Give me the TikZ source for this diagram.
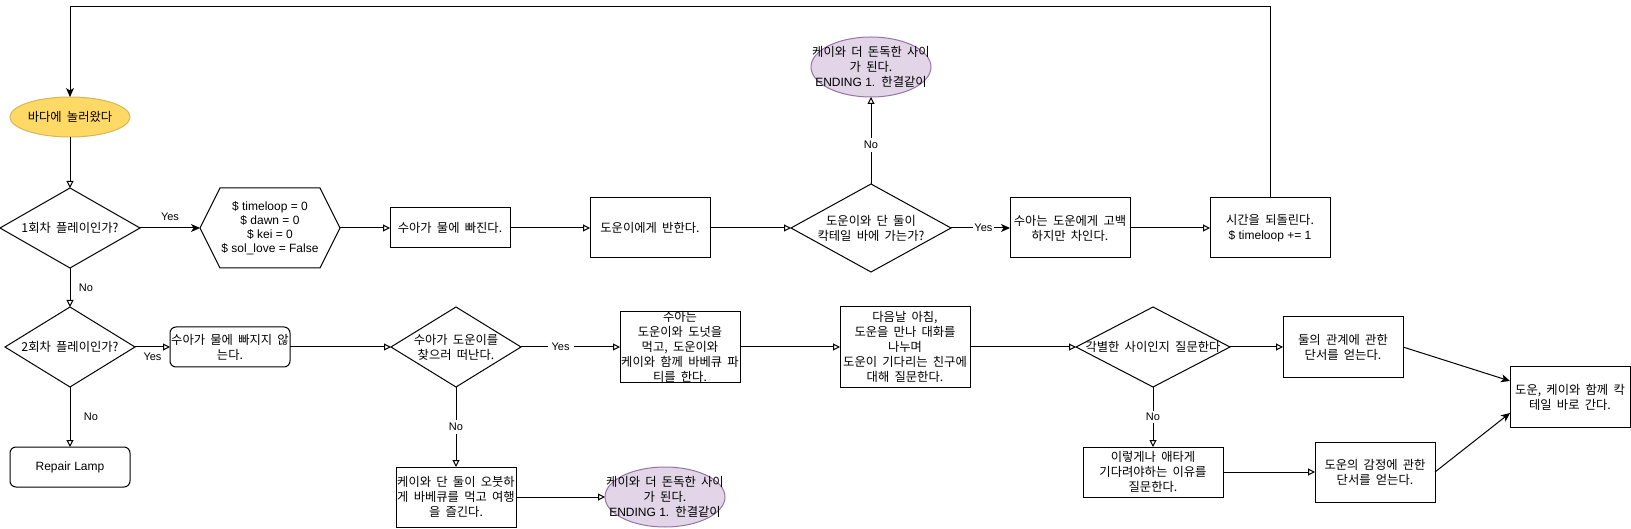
\documentclass[tikz,border=0pt]{standalone}
\usepackage{fontspec}
\setmainfont{Liberation Sans}
\newfontfamily\kr[WordSpace=1.9]{Noto Sans CJK KR}
\usetikzlibrary{shapes.geometric,arrows.meta}
\definecolor{goldfill}{HTML}{FFD966}
\definecolor{goldline}{HTML}{D6B656}
\definecolor{purpfill}{HTML}{E1D5E7}
\definecolor{purpline}{HTML}{9673A6}
\newcommand{\latinpart}[1]{{\normalfont\fontsize{12}{14}\selectfont #1}}
\begin{document}
\begin{tikzpicture}[x=1pt,y=-1pt,
  every node/.style={inner sep=0pt, outer sep=0pt},
  box/.style={draw=black, line width=1pt, rectangle, fill=white},
  rbox/.style={box, rounded corners=6pt},
  dia/.style={draw=black, line width=1pt, diamond, fill=white},
  ell/.style={line width=1pt, ellipse},
  txt/.style={font=\kr\fontsize{12.3}{15}\selectfont, align=center, text=black},
  ltxt/.style={font=\fontsize{12}{14}\selectfont, align=center, text=black},
  lbl/.style={font=\fontsize{11}{13}\selectfont, fill=white, inner sep=1.5pt, text=black},
  oarrow/.style={line width=1pt, -{Triangle[open, length=7pt, width=7pt]}},
  farrow/.style={line width=1pt, -{Stealth[length=9pt, width=8pt, inset=2.5pt]}}
]
\useasboundingbox (0,0) rectangle (1631,529);

% ---------- row 1 ----------
\node[ell, fill=goldfill, draw=goldline, minimum width=120pt, minimum height=40pt] (start) at (70,117) {};
\node[txt] (startT) at (start) {바다에 놀러왔다};

\node[dia, minimum width=140pt, minimum height=80pt] (q1) at (70,228) {};
\node[txt] (q1T) at (q1) {1회차 플레이인가?};

\node[minimum width=140pt, minimum height=80pt] (hex) at (270,228) {};
\draw[line width=1pt, fill=white] (hex.west) -- ([xshift=20pt]hex.north west) -- ([xshift=-20pt]hex.north east) -- (hex.east) -- ([xshift=-20pt]hex.south east) -- ([xshift=20pt]hex.south west) -- cycle;
\node[ltxt] (hexT) at (hex) {\$ timeloop = 0\\\$ dawn = 0\\\$ kei = 0\\\$ sol\_love = False};

\node[box, minimum width=120pt, minimum height=40pt] (A) at (450,228) {};
\node[txt] (AT) at (A) {수아가 물에 빠진다.};

\node[box, minimum width=120pt, minimum height=60pt] (B) at (650,228) {};
\node[txt] (BT) at (B) {도운이에게 반한다.};

\node[dia, minimum width=160pt, minimum height=88pt] (q2) at (871,228) {};
\node[txt] (q2T) at (q2) {도운이와 단 둘이\\칵테일 바에 가는가?};

\node[ell, fill=purpfill, draw=purpline, minimum width=120pt, minimum height=60pt] (end1) at (871,67) {};
\node[txt] (end1T) at (end1) {케이와 더 돈독한 사이\\가 된다.\\\latinpart{ENDING 1.} 한결같이};

\node[box, minimum width=120pt, minimum height=60pt] (C) at (1070,228) {};
\node[txt] (CT) at (C) {수아는 도운에게 고백\\하지만 차인다.};

\node[box, minimum width=120pt, minimum height=60pt] (E) at (1270,228) {};
\node[txt] (ET) at (E) {시간을 되돌린다.\\\latinpart{\$ timeloop += 1}};

\coordinate (loopR) at (1270,7);
\coordinate (loopL) at (70,7);

% ---------- row 2 ----------
\node[dia, minimum width=130pt, minimum height=80pt] (q3) at (70,347) {};
\node[txt] (q3T) at (q3) {2회차 플레이인가?};

\node[rbox, minimum width=120pt, minimum height=40pt] (R1) at (230,347) {};
\node[txt] (R1T) at (R1) {수아가 물에 빠지지 않\\는다.};

\node[rbox, minimum width=120pt, minimum height=40pt] (RL) at (70,467) {};
\node[ltxt] (RLT) at (RL) {Repair Lamp};

\node[dia, minimum width=130pt, minimum height=80pt] (q4) at (456,347) {};
\node[txt] (q4T) at (q4) {수아가 도운이를\\찾으러 떠난다.};

\node[box, minimum width=120pt, minimum height=70pt] (F) at (680,347) {};
\node[txt] (FT) at (F) {수아는\\도운이와 도넛을\\먹고, 도운이와\\케이와 함께 바베큐 파\\티를 한다.};

\node[box, minimum width=130pt, minimum height=80pt] (G) at (905,347) {};
\node[txt] (GT) at (G) {다음날 아침,\\도운을 만나 대화를\\나누며\\도운이 기다리는 친구에\\대해 질문한다.};

\node[dia, minimum width=154pt, minimum height=80pt] (q5) at (1153,347) {};
\node[txt] (q5T) at (q5) {각별한 사이인지 질문한다};

\node[box, minimum width=120pt, minimum height=60pt] (J) at (1343,347) {};
\node[txt] (JT) at (J) {둘의 관계에 관한\\단서를 얻는다.};

\node[box, minimum width=120pt, minimum height=60pt] (K) at (1570,397) {};
\node[txt] (KT) at (K) {도운, 케이와 함께 칵\\테일 바로 간다.};

\node[box, minimum width=140pt, minimum height=50pt] (H) at (1153,472) {};
\node[txt] (HT) at (H) {이렇게나 애타게\\기다려야하는 이유를\\질문한다.};

\node[box, minimum width=120pt, minimum height=60pt] (I) at (1375,472) {};
\node[txt] (IT) at (I) {도운의 감정에 관한\\단서를 얻는다.};

\node[box, minimum width=120pt, minimum height=60pt] (L) at (456,497) {};
\node[txt] (LT) at (L) {케이와 단 둘이 오붓하\\게 바베큐를 먹고 여행\\을 즐긴다.};

\node[ell, fill=purpfill, draw=purpline, minimum width=120pt, minimum height=60pt] (end2) at (665,497) {};
\node[txt] (end2T) at (end2) {케이와 더 돈독한 사이\\가 된다.\\\latinpart{ENDING 1.} 한결같이};

% ---------- connectors ----------
\draw[oarrow] (start.south) -- (q1.north);
\draw[farrow] (q1.east) -- node[lbl, pos=0.5, yshift=11pt] (lYes1) {Yes} (hex.west);
\draw[oarrow] (hex.east) -- (A.west);
\draw[oarrow] (A.east) -- (B.west);
\draw[oarrow] (B.east) -- (q2.west);
\draw[farrow] (q2.east) -- node[lbl, pos=0.55] (lYes2) {Yes} (C.west);
\draw[oarrow] (C.east) -- (E.west);
\draw[farrow] (E.north) -- (loopR) -- (loopL) -- (start.north);
\draw[oarrow] (q2.north) -- node[lbl, pos=0.45, inner sep=3pt] (lNo1) {No} (end1.south);

\draw[oarrow] (q1.south) -- node[lbl, pos=0.5, xshift=16pt, fill=none] (lNo2) {No} (q3.north);
\draw[oarrow] (q3.east) -- node[lbl, pos=0.5, yshift=-10pt, fill=none] (lYes3) {Yes} (R1.west);
\draw[oarrow] (q3.south) -- node[lbl, pos=0.5, xshift=21pt, fill=none] (lNo3) {No} (RL.north);
\draw[oarrow] (R1.east) -- (q4.west);
\draw[oarrow] (q4.east) -- node[lbl, pos=0.4, inner sep=4pt] (lYes4) {Yes} (F.west);
\draw[oarrow] (q4.south) -- node[lbl, pos=0.5, inner sep=3pt] (lNo4) {No} (L.north);
\draw[oarrow] (L.east) -- (end2.west);
\draw[oarrow] (F.east) -- (G.west);
\draw[oarrow] (G.east) -- (q5.west);
\draw[oarrow] (q5.east) -- (J.west);
\draw[oarrow] (q5.south) -- node[lbl, pos=0.5, inner sep=2pt] (lNo5) {No} (H.north);
\draw[oarrow] (H.east) -- (I.west);
\draw[farrow] (J.east) -- ([yshift=16pt]K.west);
\draw[farrow] (I.east) -- ([yshift=-16pt]K.west);
\end{tikzpicture}
\end{document}
